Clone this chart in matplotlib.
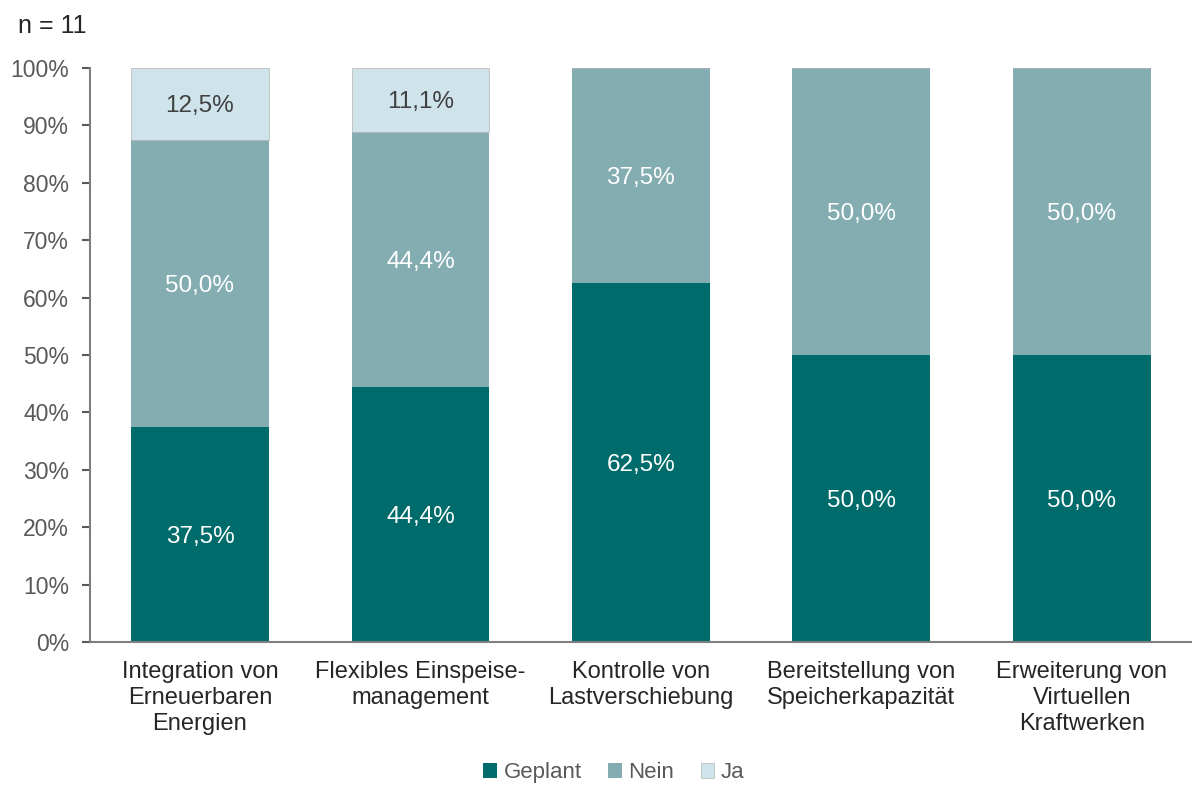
import matplotlib
matplotlib.use('Agg')
import matplotlib.pyplot as plt
import numpy as np

categories = ['Integration von\nErneuerbaren\nEnergien', 'Flexibles Einspeise-\nmanagement',
              'Kontrolle von\nLastverschiebung', 'Bereitstellung von\nSpeicherkapazität',
              'Erweiterung von\nVirtuellen\nKraftwerken']
geplant = [37.5, 44.44, 62.5, 50.0, 50.0]
nein = [50.0, 44.44, 37.5, 50.0, 50.0]
ja = [12.5, 11.11, 0, 0, 0]

series = [('Geplant', geplant, '#006b6b', 'white'),
          ('Nein', nein, '#84adb2', 'white'),
          ('Ja', ja, '#cfe3ea', '#404040')]

plt.rcParams['font.family'] = ['Liberation Sans', 'DejaVu Sans']
fig = plt.figure(figsize=(11.92, 7.87), dpi=100)
ax = fig.add_axes([0.0753, 0.1842, 0.9247, 0.7294])

x = np.arange(len(categories))
bottom = np.zeros(len(categories))
for name, vals, col, tcol in series:
    vals = np.array(vals)
    ax.bar(x, vals, 0.625, bottom=bottom, color=col, label=name,
           edgecolor='#b4b4b4' if name == 'Ja' else col, linewidth=0.5 if name == 'Ja' else 0)
    for i, v in enumerate(vals):
        if v > 0:
            ax.text(x[i], bottom[i] + v / 2, f'{v:.1f}%'.replace('.', ','),
                    ha='center', va='center_baseline', color=tcol, fontsize=17.5)
    bottom += vals

ax.set_xlim(-0.5, 4.5)
ax.set_ylim(0, 100)
ax.set_yticks(np.arange(0, 101, 10))
ax.set_yticklabels([f'{t}%' for t in range(0, 101, 10)])
ax.set_xticks(x)
ax.set_xticklabels(categories, linespacing=1.22)
ax.tick_params(axis='y', labelsize=16.5, colors='#595959', length=6, width=1.5, direction='out',
               pad=9, labelcolor='#595959')
ax.tick_params(axis='x', labelsize=17, length=0, pad=14, labelcolor='#262626')
for s in ['top', 'right']:
    ax.spines[s].set_visible(False)
for s in ['left', 'bottom']:
    ax.spines[s].set_color('#7f7f7f')
    ax.spines[s].set_linewidth(1.5)

fig.text(0.015, 0.967, 'n = 11', fontsize=18, color='#262626', ha='left', va='center')
fig.legend(loc='center', bbox_to_anchor=(0.515, 0.018), ncol=3, frameon=False,
           fontsize=16, handlelength=0.6, handleheight=0.6, handletextpad=0.3,
           columnspacing=1.2, labelcolor='#595959')

plt.savefig('out.png', dpi=100)
